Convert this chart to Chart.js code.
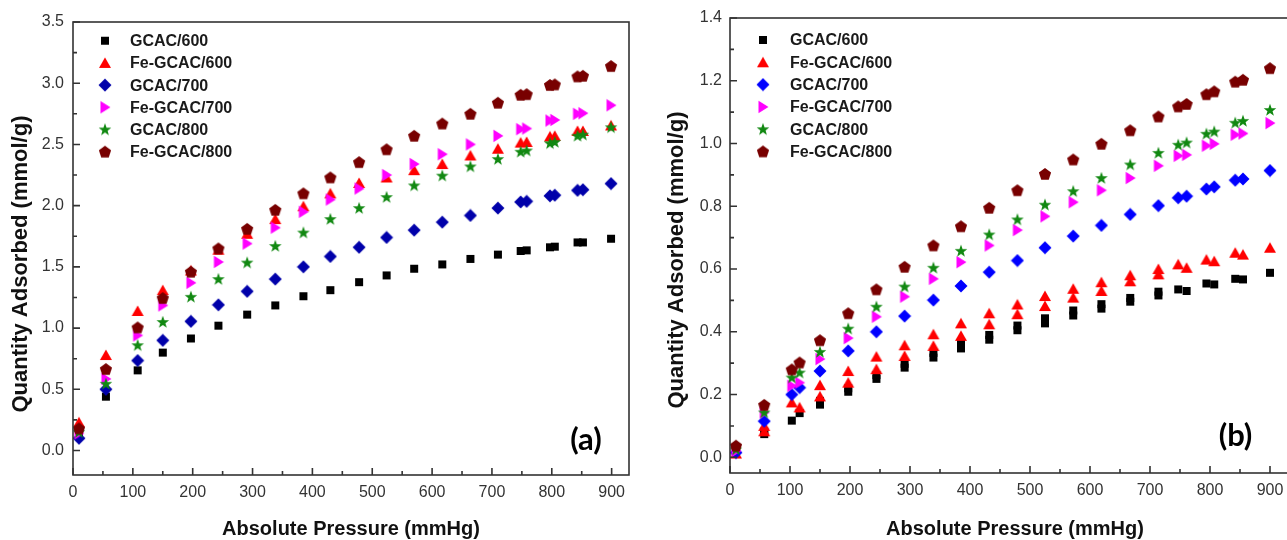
<!DOCTYPE html>
<html>
<head>
<meta charset="utf-8">
<script src="https://cdn.jsdelivr.net/npm/chart.js@4.4.1/dist/chart.umd.min.js"></script>
<style>
  html, body { margin: 0; padding: 0; background: #fff; overflow: hidden; }
  body { width: 1287px; height: 540px; position: relative; }
  .panel { position: absolute; top: 0; }
  #wrapA { left: 0; }
  #wrapB { left: 660px; }
</style>
</head>
<body>
<div class="panel" id="wrapA"><canvas id="chartA" width="660" height="540"></canvas></div>
<div class="panel" id="wrapB"><canvas id="chartB" width="700" height="540"></canvas></div>
<script>
// series names, same in both panels
const seriesNames = ['GCAC/600', 'Fe-GCAC/600', 'GCAC/700', 'Fe-GCAC/700', 'GCAC/800', 'Fe-GCAC/800'];

// panel (a) - absolute pressure (mmHg)
const pressA = [10, 55, 108, 150, 197, 243, 291, 338, 385, 430, 478, 524, 570, 617, 664, 710, 748, 758, 797, 805, 843, 852, 899];
const gcac600A = [0.13, 0.44, 0.655, 0.80, 0.915, 1.02, 1.11, 1.185, 1.26, 1.31, 1.375, 1.43, 1.485, 1.52, 1.565, 1.60, 1.63, 1.635, 1.66, 1.665, 1.70, 1.70, 1.73];
const fe600A = [0.23, 0.78, 1.14, 1.31, 1.47, 1.64, 1.77, 1.89, 1.995, 2.10, 2.185, 2.23, 2.29, 2.34, 2.41, 2.465, 2.515, 2.52, 2.565, 2.57, 2.61, 2.61, 2.655];
const gcac700A = [0.10, 0.50, 0.735, 0.90, 1.055, 1.19, 1.30, 1.40, 1.50, 1.585, 1.66, 1.74, 1.80, 1.865, 1.92, 1.98, 2.03, 2.035, 2.08, 2.085, 2.125, 2.13, 2.18];
const fe700A = [0.14, 0.585, 0.94, 1.185, 1.37, 1.54, 1.69, 1.82, 1.95, 2.05, 2.14, 2.25, 2.34, 2.42, 2.50, 2.57, 2.625, 2.63, 2.695, 2.70, 2.75, 2.755, 2.82];
const gcac800A = [0.15, 0.545, 0.86, 1.05, 1.255, 1.40, 1.535, 1.67, 1.78, 1.89, 1.98, 2.07, 2.165, 2.245, 2.32, 2.38, 2.44, 2.45, 2.51, 2.52, 2.57, 2.58, 2.64];
const fe800A = [0.18, 0.665, 1.005, 1.245, 1.46, 1.65, 1.81, 1.965, 2.10, 2.23, 2.355, 2.46, 2.57, 2.67, 2.75, 2.84, 2.905, 2.91, 2.985, 2.99, 3.055, 3.06, 3.14];

// panel (b)
const pressB = [10, 57, 103, 116, 150, 197, 244, 291, 339, 385, 432, 479, 525, 572, 619, 667, 714, 747, 761, 794, 807, 842, 855, 900];
const gcac600B = [0.012, 0.074, 0.117, 0.141, 0.168, 0.209, 0.25, 0.286, 0.318, 0.347, 0.375, 0.405, 0.427, 0.452, 0.474, 0.496, 0.516, 0.535, 0.53, 0.554, 0.551, 0.569, 0.567, 0.588];
const gcac600B2 = [null, 0.082, null, null, 0.18, 0.22, 0.262, 0.298, 0.333, 0.365, 0.39, 0.42, 0.443, 0.468, 0.488, 0.508, 0.528, null, null, null, null, null, null, null];
const fe600B = [0.012, 0.083, 0.175, 0.159, 0.194, 0.238, 0.281, 0.323, 0.355, 0.387, 0.424, 0.456, 0.482, 0.509, 0.53, 0.561, 0.583, 0.615, 0.604, 0.63, 0.625, 0.652, 0.646, 0.668];
const fe600B2 = [null, 0.10, null, null, 0.23, 0.275, 0.321, 0.357, 0.392, 0.427, 0.459, 0.487, 0.514, 0.537, 0.558, 0.58, 0.60, null, null, null, null, null, null, null];
const gcac700B = [0.015, 0.115, 0.20, 0.222, 0.275, 0.339, 0.40, 0.45, 0.501, 0.546, 0.59, 0.627, 0.668, 0.705, 0.739, 0.774, 0.802, 0.827, 0.832, 0.855, 0.862, 0.883, 0.887, 0.914];
const fe700B = [0.02, 0.143, 0.228, 0.238, 0.313, 0.38, 0.448, 0.512, 0.569, 0.622, 0.675, 0.724, 0.768, 0.813, 0.851, 0.89, 0.929, 0.961, 0.964, 0.993, 0.999, 1.028, 1.032, 1.065];
const gcac800B = [0.025, 0.143, 0.254, 0.27, 0.336, 0.41, 0.48, 0.544, 0.604, 0.658, 0.71, 0.758, 0.805, 0.848, 0.89, 0.933, 0.97, 0.996, 1.003, 1.031, 1.038, 1.066, 1.072, 1.107];
const fe800B = [0.037, 0.167, 0.28, 0.302, 0.373, 0.459, 0.535, 0.607, 0.675, 0.736, 0.795, 0.851, 0.903, 0.949, 0.999, 1.042, 1.086, 1.118, 1.126, 1.157, 1.166, 1.197, 1.203, 1.24];

const xTitle = 'Absolute Pressure (mmHg)';
const yTitle = 'Quantity Adsorbed (mmol/g)';

const shapes = ['square', 'triangle', 'diamond', 'right', 'star', 'pentagon'];
const colorsA = ['#000000', '#ff0000', '#0000aa', '#ff00ff', '#118811', '#780000'];
const colorsB = ['#000000', '#ff0000', '#0000ff', '#ff00ff', '#118811', '#780000'];

function makeMarker(shape, color) {
  const c = document.createElement('canvas');
  c.width = 14; c.height = 14;
  const g = c.getContext('2d');
  g.fillStyle = color;
  g.beginPath();
  if (shape === 'square') {
    g.rect(3, 3, 8, 8);
  } else if (shape === 'triangle') {
    g.moveTo(7, 1.5); g.lineTo(13, 12); g.lineTo(1, 12);
  } else if (shape === 'diamond') {
    g.moveTo(7, 0.5); g.lineTo(13.5, 7); g.lineTo(7, 13.5); g.lineTo(0.5, 7);
  } else if (shape === 'right') {
    g.moveTo(2.5, 0.8); g.lineTo(12.5, 7); g.lineTo(2.5, 13.2);
  } else if (shape === 'star') {
    for (let k = 0; k < 10; k++) {
      const r = k % 2 ? 2.7 : 6.6;
      const ang = -Math.PI / 2 + k * Math.PI / 5;
      const px = 7 + r * Math.cos(ang), py = 7.4 + r * Math.sin(ang);
      if (k) g.lineTo(px, py); else g.moveTo(px, py);
    }
  } else {
    for (let k = 0; k < 5; k++) {
      const ang = -Math.PI / 2 + k * 2 * Math.PI / 5;
      const px = 7 + 6.4 * Math.cos(ang), py = 7.5 + 6.4 * Math.sin(ang);
      if (k) g.lineTo(px, py); else g.moveTo(px, py);
    }
  }
  g.closePath();
  g.fill();
  return c;
}

function toPoints(press, vals) {
  const pts = [];
  press.forEach((x, i) => { if (vals[i] !== null) pts.push({ x: x, y: vals[i] }); });
  return pts;
}

// frame, inward ticks, legend, titles and the panel tag
const decor = {
  id: 'decor',
  afterDatasetsDraw(chart, args, o) {
    const { ctx, chartArea: a, scales: { x, y } } = chart;
    ctx.save();
    ctx.strokeStyle = '#333';
    ctx.lineWidth = 1.6;
    ctx.beginPath();
    x.ticks.forEach(t => {
      const p = x.getPixelForValue(t.value);
      ctx.moveTo(p, a.bottom); ctx.lineTo(p, a.bottom - 7);
      const m = t.value + o.xMinor;
      if (m < x.max) {
        const pm = x.getPixelForValue(m);
        ctx.moveTo(pm, a.bottom); ctx.lineTo(pm, a.bottom - 4);
      }
    });
    y.ticks.forEach(t => {
      const p = y.getPixelForValue(t.value);
      ctx.moveTo(a.left, p); ctx.lineTo(a.left + 7, p);
      const m = t.value + o.yMinor;
      if (m < y.max) {
        const pm = y.getPixelForValue(m);
        ctx.moveTo(a.left, pm); ctx.lineTo(a.left + 4, pm);
      }
    });
    ctx.stroke();
    ctx.strokeRect(a.left, a.top, a.right - a.left, a.bottom - a.top);

    // legend
    ctx.font = 'bold 16px "Liberation Sans", Arial, sans-serif';
    ctx.fillStyle = '#1a1a1a';
    ctx.textBaseline = 'middle';
    ctx.textAlign = 'left';
    o.markers.forEach((mk, i) => {
      const cy = a.top + o.legY + i * o.legDy;
      ctx.drawImage(mk, a.left + o.legX - 7, cy - 7);
      ctx.fillText(seriesNames[i], a.left + o.legTx, cy + 1);
    });

    // axis titles
    ctx.fillStyle = '#111';
    ctx.textAlign = 'center';
    ctx.font = 'bold 20px "Liberation Sans", Arial, sans-serif';
    ctx.fillText(xTitle, (a.left + a.right) / 2 + o.xtDx, o.xtY);
    ctx.save();
    ctx.translate(o.ytX, o.ytY);
    ctx.rotate(-Math.PI / 2);
    ctx.font = 'bold 22px "Liberation Sans", Arial, sans-serif';
    ctx.fillText(yTitle, 0, 0);
    ctx.restore();

    // panel tag
    ctx.font = 'bold 31px Lato, "Open Sans", sans-serif';
    ctx.fillStyle = '#000';
    ctx.fillText(o.tag, o.tagX, o.tagY);
    ctx.restore();
  }
};

function makeChart(id, press, valueSets, colors, sc, deco) {
  const markers = shapes.map((s, i) => makeMarker(s, colors[i]));
  const datasets = [];
  valueSets.forEach((vs, i) => {
    vs.forEach(vals => {
      datasets.push({
        label: seriesNames[i],
        data: toPoints(press, vals),
        pointStyle: markers[i],
        pointRadius: 6,
        showLine: false,
        order: -i
      });
    });
  });
  deco.markers = markers;
  const tickFont = { family: '"Liberation Sans", Arial, sans-serif', size: 16 };
  return new Chart(document.getElementById(id), {
    type: 'scatter',
    data: { datasets: datasets },
    options: {
      responsive: false,
      animation: false,
      layout: { padding: sc.padding },
      plugins: { legend: { display: false }, tooltip: { enabled: false }, decor: deco },
      scales: {
        x: {
          type: 'linear', min: sc.xMin, max: sc.xMax,
          grid: { display: false, drawTicks: false },
          border: { display: false },
          ticks: { stepSize: 100, includeBounds: false, color: '#333', font: tickFont, padding: 8, maxRotation: 0 },
          afterFit: s => { s.height = sc.xHeight; }
        },
        y: {
          type: 'linear', min: sc.yMin, max: sc.yMax,
          grid: { display: false, drawTicks: false },
          border: { display: false },
          ticks: { stepSize: sc.yStep, includeBounds: false, color: '#333', font: tickFont, padding: sc.yPad,
            callback: v => v.toFixed(1) },
          afterFit: s => { s.width = sc.yWidth; }
        }
      }
    },
    plugins: [decor]
  });
}

makeChart('chartA', pressA,
  [[gcac600A], [fe600A], [gcac700A], [fe700A], [gcac800A], [fe800A]],
  colorsA,
  { padding: { left: 0, top: 22, right: 31, bottom: 0 }, xMin: 0, xMax: 929, yMin: -0.2, yMax: 3.5, yStep: 0.5,
    xHeight: 65, yWidth: 73, yPad: 9 },
  { xMinor: 50, yMinor: 0.25, legX: 32, legTx: 57, legY: 18.7, legDy: 22.2,
    xtDx: 0, xtY: 529, ytX: 21, ytY: 264, tag: '(a)', tagX: 586, tagY: 440 });

makeChart('chartB', pressB,
  [[gcac600B, gcac600B2], [fe600B, fe600B2], [gcac700B], [fe700B], [gcac800B], [fe800B]],
  colorsB,
  { padding: { left: 0, top: 18, right: 60, bottom: 0 }, xMin: 0, xMax: 950, yMin: -0.05, yMax: 1.4, yStep: 0.2,
    xHeight: 67, yWidth: 70, yPad: 8 },
  { xMinor: 50, yMinor: 0.1, legX: 33, legTx: 60, legY: 22, legDy: 22.3,
    xtDx: 0, xtY: 529, ytX: 17, ytY: 260, tag: '(b)', tagX: 575.5, tagY: 436 });
</script>
</body>
</html>
